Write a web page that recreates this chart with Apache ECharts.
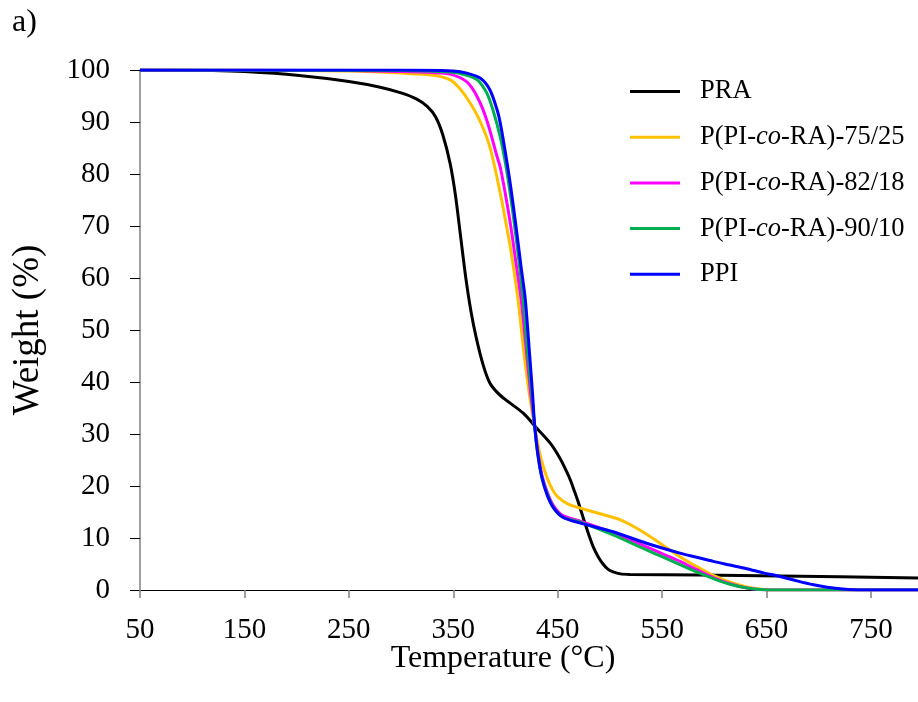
<!DOCTYPE html>
<html>
<head>
<meta charset="utf-8">
<script src="https://cdn.jsdelivr.net/npm/echarts@6/dist/echarts.min.js"></script>
<style>
html,body{margin:0;padding:0;background:#fff;}
#chart{width:918px;height:702px;}
</style>
</head>
<body>
<div id="chart"></div>
<script>
// Temperature (°C) vs Weight (%) readings
const PRA = [[50,100],[120,99.9],[150,99.7],[200,99.0],[250,97.8],[280,96.7],[300,95.6],[315,94.4],[325,93],[333,91],[340,87.5],[347,82],[352,76],[357,68],[362,60],[367,53.5],[372,48.5],[379,43],[385,39.8],[392,38],[400,36.6],[417,34],[430,31.1],[443,28.2],[452,25.4],[458,23],[462,21.2],[466,19],[470,16.7],[475,13.5],[480,10.5],[484,8.3],[489,6.3],[493,5.1],[498,4],[503,3.5],[510,3.1],[519,3.0],[586,2.9],[663,2.7],[795,2.3]];
const P7525 = [[50,100],[200,99.9],[250,99.8],[300,99.4],[331,99.0],[347,98.1],[356,96.5],[366,93.7],[376,90],[385,85.2],[395,76.3],[400,71],[405,65.5],[412,55.8],[418,45],[423,37.5],[428,31.4],[432,27],[435,24.5],[440,21.5],[445,19.3],[450,17.9],[460,16.5],[471,15.8],[488,14.8],[510,13.5],[529,11.5],[548,9.0],[567,6.4],[584,4.4],[599,2.8],[615,1.5],[631,0.6],[647,0.1],[660,0],[795,0]];
const P8218 = [[50,100],[250,99.9],[300,99.7],[330,99.5],[347,99.2],[363,97.7],[373,94.8],[382,90.4],[392,83.3],[395,81.3],[400,76],[405,70],[410,63],[415,55.8],[420,46],[424,38],[428,31.4],[431,26.5],[435,22],[440,18.8],[446,16.2],[455,14.3],[471,13.3],[503,11.0],[535,8.3],[551,6.9],[567,5.5],[583,3.9],[599,2.4],[615,1.2],[631,0.4],[647,0.05],[660,0],[795,0]];
const P9010 = [[50,100],[300,99.9],[347,99.6],[363,99],[373,98.1],[382,95.6],[388,92.3],[395,87.1],[400,82],[405,75.5],[410,68],[417,55.8],[421,46],[425,38],[428,31.4],[431,26],[435,21.5],[440,18.5],[446,15.8],[455,14],[471,13.1],[503,10.6],[535,7.7],[551,6.3],[567,4.9],[583,3.5],[599,2.2],[615,1.1],[631,0.4],[647,0.05],[660,0],[795,0]];
const PPI = [[50,100],[300,100],[350,99.8],[363,99.4],[376,98.4],[385,96.2],[392,92.3],[395,89.8],[400,84],[405,77.5],[410,70],[415,62],[419,55.8],[423,45.5],[426,37.5],[428,31.4],[431,26],[435,21.5],[440,18.2],[446,15.8],[455,14.0],[471,12.9],[503,11.2],[535,9.0],[567,7.1],[583,6.3],[599,5.5],[615,4.8],[631,4.1],[647,3.3],[663,2.6],[680,1.7],[695,1.0],[708,0.55],[723,0.2],[740,0],[795,0]];

const seriesNames = ['PRA','P(PI-co-RA)-75/25','P(PI-co-RA)-82/18','P(PI-co-RA)-90/10','PPI'];
const seriesData = [PRA, P7525, P8218, P9010, PPI];
const seriesColors = ['#000000','#FFC000','#FF00FF','#00B050','#0000FF'];
const xTicks = [50,150,250,350,450,550,650,750];

const FONT = '"Liberation Serif","Times New Roman",serif';
const chart = echarts.init(document.getElementById('chart'), null, {renderer:'canvas'});
chart.setOption({
  animation:false,
  backgroundColor:'#fff',
  grid:{left:140, right:0, top:70, bottom:112},
  graphic:[{type:'text', left:12, top:7, style:{text:'a)', font:'32px '+FONT, fill:'#000'}}],
  legend:{
    orient:'vertical', left:625, top:73, itemWidth:50, itemHeight:3, itemGap:18.7, icon:'rect',
    data:seriesNames,
    formatter:function(n){return n.replace('-co-','-{i|co}-');},
    textStyle:{fontFamily:FONT, fontSize:26.5, color:'#000', padding:[0,0,0,15],
      rich:{i:{fontFamily:FONT, fontSize:26.5, fontStyle:'italic', color:'#000'}}}
  },
  xAxis:{
    type:'value', min:50, max:795,
    name:'Temperature (°C)', nameLocation:'middle', nameGap:53, nameMoveOverlap:false,
    nameTextStyle:{fontFamily:FONT, fontSize:32, color:'#000', padding:[0,52,0,0]},
    axisLine:{show:true, onZero:false, lineStyle:{color:'#000', width:1}},
    axisTick:{show:true, length:8, customValues:xTicks, lineStyle:{color:'#808080', width:1.5}},
    axisLabel:{customValues:xTicks, fontFamily:FONT, fontSize:29, color:'#000', margin:26},
    splitLine:{show:false}
  },
  yAxis:{
    type:'value', min:0, max:100, interval:10,
    name:'Weight (%)', nameLocation:'middle', nameGap:93, nameRotate:90, nameMoveOverlap:false,
    nameTextStyle:{fontFamily:FONT, fontSize:37, color:'#000'},
    axisLine:{show:true, lineStyle:{color:'#808080', width:1.5}},
    axisTick:{show:true, length:10, lineStyle:{color:'#000', width:1}},
    axisLabel:{fontFamily:FONT, fontSize:29, color:'#000', margin:30},
    splitLine:{show:false}
  },
  series: seriesNames.map(function(n,i){
    return {name:n, type:'line', data:seriesData[i], showSymbol:false, symbol:'none', smooth:0.3,
      lineStyle:{color:seriesColors[i], width:3}, itemStyle:{color:seriesColors[i]}, z:2+i};
  })
});
</script>
</body>
</html>
